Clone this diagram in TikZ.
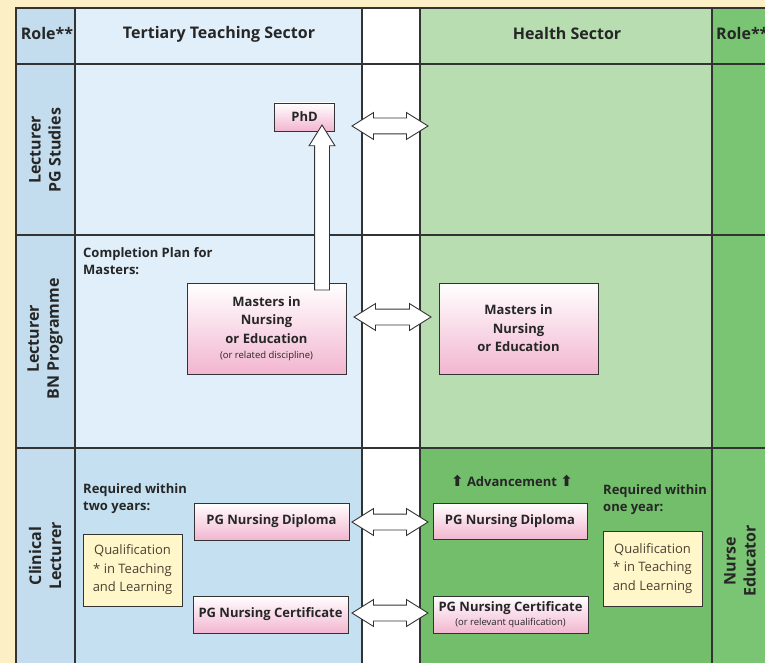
\documentclass[tikz,border=0pt]{standalone}
\usepackage{fontspec}
\setmainfont{Open Sans}
\newfontfamily\symfont{DejaVu Sans}
\usetikzlibrary{shapes.arrows}
\definecolor{cream}{HTML}{FCEFC6}
\definecolor{roleblue}{HTML}{C3DDEE}
\definecolor{tertlight}{HTML}{E0EFF9}
\definecolor{tertdark}{HTML}{C5E1F1}
\definecolor{healthlight}{HTML}{B7DDB1}
\definecolor{healthdark}{HTML}{72BE6B}
\definecolor{roleright}{HTML}{7AC573}
\definecolor{gridline}{HTML}{333333}
\definecolor{pinkb}{HTML}{F2B6D0}
\definecolor{qualfill}{HTML}{FFF7C9}
\definecolor{txt}{HTML}{262626}
\definecolor{qualtxt}{HTML}{4A4232}
\newcommand{\smalltxt}{\fontsize{9.5}{11}\selectfont\mdseries}
\begin{document}
\begin{tikzpicture}[x=1pt,y=-1pt,
  grid/.style={draw=gridline,line width=1.1pt},
  hdr/.style={font=\fontsize{16}{20}\selectfont\bfseries,text=txt,align=center,inner sep=0pt},
  lbl/.style={font=\fontsize{13}{17.5}\selectfont\bfseries,text=txt,align=left,inner sep=0pt,anchor=north west},
  pinkbox/.style={draw=gridline,line width=0.9pt,top color=white,bottom color=pinkb,
    font=\fontsize{13}{18.5}\selectfont\bfseries,text=txt,align=center,inner sep=0pt},
  qualbox/.style={draw=gridline,line width=0.9pt,fill=qualfill,
    font=\fontsize{13}{18.5}\selectfont,text=qualtxt,align=center,inner sep=0pt},
  darr/.style={double arrow,draw=gridline,line width=0.9pt,fill=white,inner sep=7.5pt,
    double arrow head extend=5.5pt,double arrow tip angle=64},
  uarr/.style={single arrow,draw=gridline,line width=0.9pt,fill=white,inner sep=7pt,
    single arrow head extend=5.5pt,single arrow tip angle=64,shape border rotate=90}
]
\useasboundingbox (0,0) rectangle (765,663);
\fill[cream] (0,0) rectangle (765,663);
% column / row fills
\fill[roleblue] (16,8) rectangle (75,663);
\fill[tertlight] (75,8) rectangle (362,448);
\fill[tertdark] (75,448) rectangle (362,663);
\fill[white] (362,8) rectangle (420,663);
\fill[healthlight] (420,8) rectangle (712,448);
\fill[healthdark] (420,448) rectangle (712,663);
\fill[roleright] (712,8) rectangle (765,663);
% grid
\draw[grid] (16,663) -- (16,8) -- (765,8);
\draw[grid] (16,64) -- (765,64);
\draw[grid] (16,235) -- (765,235);
\draw[grid] (16,448) -- (765,448);
\foreach \x in {75,362,420,712} \draw[grid] (\x,8) -- (\x,663);

% headers
\node[hdr] (hroleL) at (47,34) {Role**};
\node[hdr] (htert) at (219,34) {Tertiary Teaching Sector};
\node[hdr] (hhealth) at (567,34) {Health Sector};
\node[hdr,anchor=west] (hroleR) at (716,34) {Role**};

% role labels
\node[hdr,rotate=90] (r1) at (45,150) {Lecturer\\PG Studies};
\node[hdr,rotate=90] (r2) at (45,339) {Lecturer\\BN Programme};
\node[hdr,rotate=90] (r3) at (45,556) {Clinical\\Lecturer};
\node[hdr,rotate=90] (r4) at (740,561) {Nurse\\Educator};

% row 1 / 2 boxes
\node[pinkbox,minimum width=60pt,minimum height=28pt] (phd) at (304.5,117) {PhD};
\node[pinkbox,minimum width=159pt,minimum height=91pt] (mastL) at (266.5,328.5)
  {Masters in\\Nursing\\or Education\\[-3pt]{\smalltxt (or related discipline)}};
\node[pinkbox,minimum width=159pt,minimum height=91pt] (mastR) at (518.5,328.5)
  {Masters in\\Nursing\\or Education};
\node[lbl] (plan) at (83,247) {Completion Plan for\\Masters:};

% vertical arrow from Masters to PhD
\node[uarr,minimum height=165pt] (up) at (322,213.5) {};

% row 3 boxes
\node[lbl] (req2) at (83,483) {Required within\\two years:};
\node[lbl] (req1) at (603,484) {Required within\\one year:};
\node[qualbox,minimum width=99pt,minimum height=72pt] (qualL) at (132.5,570)
  {Qualification\\* in Teaching\\and Learning};
\node[qualbox,minimum width=99pt,minimum height=75pt] (qualR) at (652.5,568.5)
  {Qualification\\* in Teaching\\and Learning};
\node[pinkbox,minimum width=155pt,minimum height=37pt] (dipL) at (271.5,521.5) {PG Nursing Diploma};
\node[pinkbox,minimum width=155pt,minimum height=37pt] (certL) at (270.5,614.5) {PG Nursing Certificate};
\node[pinkbox,minimum width=154pt,minimum height=36pt] (dipR) at (510,521) {PG Nursing Diploma};
\node[pinkbox,minimum width=155pt,minimum height=37pt,font=\fontsize{13}{13.5}\selectfont\bfseries] (certR) at (510.5,614.5)
  {PG Nursing Certificate\\{\smalltxt (or relevant qualification)}};
\node[font=\fontsize{13}{14}\selectfont\bfseries,text=txt,inner sep=0pt] (adv) at (512,481)
  {{\symfont\fontsize{15}{15}\selectfont ⬆} Advancement {\symfont\fontsize{15}{15}\selectfont ⬆}};

% double arrows between sectors
\node[darr,minimum height=76pt] (a1) at (390,126) {};
\node[darr,minimum height=77pt] (a2) at (392.5,317) {};
\node[darr,minimum height=76pt] (a3) at (390,522) {};
\node[darr,minimum height=76pt] (a4) at (390,613) {};
\end{tikzpicture}
\end{document}
